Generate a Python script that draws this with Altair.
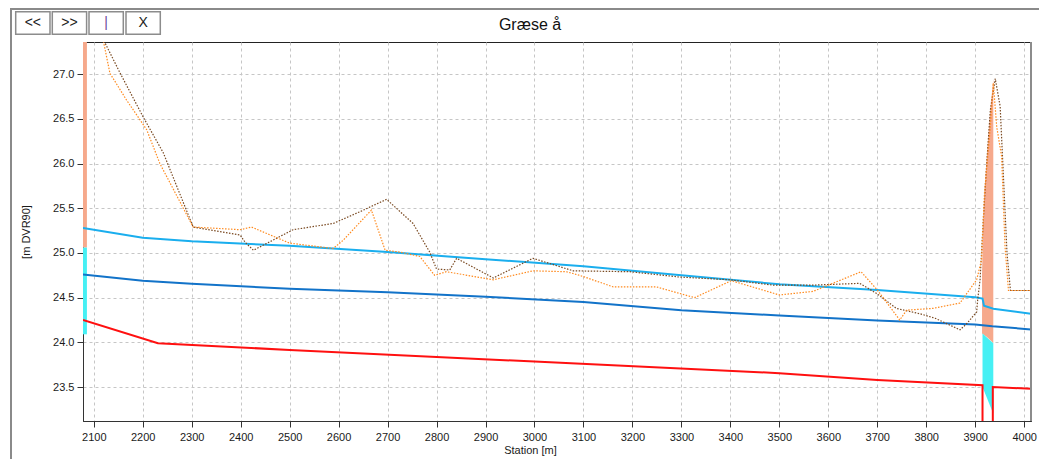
import altair as alt
import pandas as pd

# ---------------- texts ----------------
title_text = "Græse å"
x_title = "Station [m]"
y_title = "[m DVR90]"
button_labels = ["<<", ">>", "|", "X"]

# ---------------- axes ----------------
x_domain = [2078, 4014]
y_domain = [23.12, 27.36]
x_ticks = [2100, 2200, 2300, 2400, 2500, 2600, 2700, 2800, 2900, 3000,
           3100, 3200, 3300, 3400, 3500, 3600, 3700, 3800, 3900, 4000]
y_ticks = [23.5, 24.0, 24.5, 25.0, 25.5, 26.0, 26.5, 27.0]

# ---------------- series (station [m], level [m DVR90]) ----------------
# upper water level (light blue)
wl_high_x = [2078, 2200, 2300, 2500, 2700, 2900, 3100, 3300, 3500, 3700, 3900, 3915, 3918, 3937, 4014]
wl_high_y = [25.28, 25.17, 25.13, 25.08, 25.01, 24.93, 24.85, 24.75, 24.65, 24.585, 24.505, 24.49, 24.41, 24.375, 24.32]

# lower water level (dark blue)
wl_low_x = [2078, 2200, 2300, 2500, 2700, 2900, 3100, 3300, 3500, 3700, 3900, 3935, 4014]
wl_low_y = [24.76, 24.69, 24.655, 24.60, 24.56, 24.51, 24.45, 24.36, 24.30, 24.245, 24.20, 24.18, 24.145]

# channel bed (red)
bed_x = [2078, 2231, 2500, 3000, 3500, 3700, 3915, 3915, 3936, 3936, 4014]
bed_y = [24.25, 23.99, 23.915, 23.785, 23.655, 23.58, 23.52, 22.80, 22.80, 23.50, 23.48]

# left bank (brown, dotted)
bank_left_x = [2110, 2122, 2154, 2201, 2242, 2303, 2399, 2409, 2426, 2507, 2589, 2643, 2698,
               2752, 2786, 2800, 2827, 2841, 2916, 2997, 3079, 3195, 3297, 3399, 3487, 3569,
               3664, 3698, 3739, 3787, 3818, 3869, 3883, 3903, 3905, 3910, 3917, 3924, 3931,
               3941, 3951, 3965, 3972, 4014]
bank_left_y = [27.60, 27.36, 27.01, 26.52, 26.12, 25.29, 25.20, 25.12, 25.03, 25.26, 25.33, 25.46, 25.60,
               25.33, 25.01, 24.82, 24.81, 24.94, 24.72, 24.94, 24.80, 24.79, 24.73, 24.70, 24.64, 24.64,
               24.66, 24.55, 24.38, 24.32, 24.27, 24.14, 24.21, 24.34, 24.47, 24.70, 25.41, 26.04, 26.60,
               26.95, 26.64, 25.00, 24.58, 24.58]

# right bank (orange, dotted)
bank_right_x = [2112, 2120, 2133, 2167, 2208, 2235, 2303, 2399, 2422, 2500, 2589, 2609, 2667,
                2695, 2725, 2766, 2796, 2820, 2916, 2997, 3065, 3092, 3161, 3249, 3327, 3402,
                3500, 3569, 3667, 3701, 3746, 3760, 3814, 3869, 3903, 3913, 3919, 3931, 3937,
                3944, 3954, 3961, 3968, 4014]
bank_right_y = [27.60, 27.36, 27.01, 26.71, 26.38, 26.00, 25.29, 25.26, 25.29, 25.11, 25.05, 25.14, 25.48,
                25.03, 25.01, 24.96, 24.75, 24.79, 24.70, 24.80, 24.79, 24.75, 24.62, 24.62, 24.50, 24.69,
                24.53, 24.57, 24.79, 24.58, 24.25, 24.36, 24.38, 24.44, 24.70, 24.92, 25.67, 26.41, 26.90,
                26.41, 26.08, 25.07, 24.58, 24.58]

# structure at start of reach (narrow band)
start_struct_x = [2078, 2086]
start_struct_top = [27.60, 25.06]     # salmon part: top, bottom
start_struct_low = [25.06, 24.09]     # cyan part: top, bottom

# structure near 3915-3937 (spike)
spike_x = [3914, 3916, 3919, 3924, 3930, 3937]
spike_top = [24.75, 25.30, 25.70, 26.10, 26.55, 26.95]
spike_bottom = [24.10, 24.09, 24.08, 24.06, 24.03, 23.99]
culvert_x = [3915, 3937]
culvert_top = [24.10, 23.99]
culvert_bottom = [23.50, 23.20]

# ---------------- styling ----------------
W, H = 948, 379
FONT = "Liberation Sans"

xscale = alt.Scale(domain=x_domain, nice=False, zero=False)
yscale = alt.Scale(domain=y_domain, nice=False, zero=False)

xaxis = alt.Axis(title=x_title, values=x_ticks, format="d", grid=True,
                 gridColor="#c6c6c6", gridDash=[3, 3], gridWidth=1,
                 domainColor="#333333", tickColor="#333333", tickSize=6,
                 labelFont=FONT, labelFontSize=11, labelColor="#1a1a1a", labelPadding=4,
                 titleFont=FONT, titleFontSize=11, titleFontWeight="normal",
                 titleColor="#1a1a1a", titleBaseline="middle", titleY=29, titleX=447)
yaxis = alt.Axis(title=y_title, values=y_ticks, format=".1f", grid=True,
                 gridColor="#c6c6c6", gridDash=[3, 3], gridWidth=1,
                 domainColor="#333333", tickColor="#333333", tickSize=6,
                 labelFont=FONT, labelFontSize=11, labelColor="#1a1a1a", labelPadding=3,
                 titleFont=FONT, titleFontSize=11, titleFontWeight="normal",
                 titleColor="#1a1a1a", titleBaseline="middle", titleX=-57, titleY=H / 2)


def X(field):
    return alt.X(field, type="quantitative", scale=xscale, axis=xaxis)


def Y(field):
    return alt.Y(field, type="quantitative", scale=yscale, axis=yaxis)


def line_layer(xs, ys, color, width, dash=None):
    df = pd.DataFrame({"station": xs, "level": ys, "order": list(range(len(xs)))})
    kw = dict(color=color, strokeWidth=width, clip=True)
    if dash:
        kw["strokeDash"] = dash
    return alt.Chart(df).mark_line(**kw).encode(
        x=X("station"), y=Y("level"), order=alt.Order("order:Q"))


def band_layer(xs, tops, color, opacity=1.0):
    df = pd.DataFrame({"x0": [xs[0]], "x1": [xs[1]], "y0": [tops[0]], "y1": [tops[1]]})
    return alt.Chart(df).mark_rect(color=color, opacity=opacity, clip=True).encode(
        x=X("x0"), x2="x1", y=Y("y0"), y2="y1")


def area_layer(xs, tops, bottoms, color, opacity=1.0):
    df = pd.DataFrame({"station": xs, "top": tops, "bottom": bottoms})
    return alt.Chart(df).mark_area(color=color, opacity=opacity, clip=True).encode(
        x=X("station"), y=Y("top"), y2="bottom")


layers = [
    band_layer(start_struct_x, start_struct_top, "#F6A98C"),
    band_layer(start_struct_x, start_struct_low, "#46F0F4"),
    area_layer(spike_x, spike_top, spike_bottom, "#F6A98C"),
    area_layer(culvert_x, culvert_top, culvert_bottom, "#46F0F4"),
    line_layer(wl_high_x, wl_high_y, "#1AAEEE", 2),
    line_layer(wl_low_x, wl_low_y, "#1273C9", 2),
    line_layer(bed_x, bed_y, "#FF1010", 2),
    line_layer(bank_left_x, bank_left_y, "#7A4A22", 1.2, [1.5, 1.5]),
    line_layer(bank_right_x, bank_right_y, "#FF8A1E", 1.2, [1.5, 1.5]),
]

# ---------------- window chrome (frame, title, buttons) ----------------
one = pd.DataFrame({"k": [0]})
frame_color = "#8a8a8a"
layers.append(alt.Chart(one).mark_rule(color=frame_color, strokeWidth=2).encode(
    x=alt.value(-72), x2=alt.value(956), y=alt.value(-33)))
layers.append(alt.Chart(one).mark_rule(color=frame_color, strokeWidth=2).encode(
    x=alt.value(-72), y=alt.value(-34), y2=alt.value(420)))
layers.append(alt.Chart(one).mark_rule(color="#8c8c8c", strokeWidth=2).encode(
    x=alt.value(W), y=alt.value(0), y2=alt.value(H)))
layers.append(alt.Chart(one).mark_text(font=FONT, fontSize=16, color="#111111",
                                       align="center", baseline="middle").encode(
    x=alt.value(447), y=alt.value(-17), text=alt.value(title_text)))

btn_left = [-67.3, -30.7, 6.0, 43.0]
btn_w = 34.3
for lbl, bx in zip(button_labels, btn_left):
    layers.append(alt.Chart(one).mark_rect(fill="white", stroke="#8c8c8c", strokeWidth=1.5).encode(
        x=alt.value(bx), x2=alt.value(bx + btn_w), y=alt.value(-30.3), y2=alt.value(-7.7)))
    layers.append(alt.Chart(one).mark_text(font=FONT, fontSize=14,
                                           color="#6a4a9a" if lbl == "|" else "#222222",
                                           align="center", baseline="middle").encode(
        x=alt.value(bx + btn_w / 2), y=alt.value(-19), text=alt.value(lbl)))

chart = alt.layer(*layers).properties(
    width=W, height=H,
    autosize=alt.AutoSizeParams(type="none"),
    padding={"left": 75, "top": 34, "right": 8, "bottom": 38},
).configure_view(stroke="#222222", strokeWidth=1)

chart.save("out.html", embed_options={"renderer": "svg", "actions": False})
